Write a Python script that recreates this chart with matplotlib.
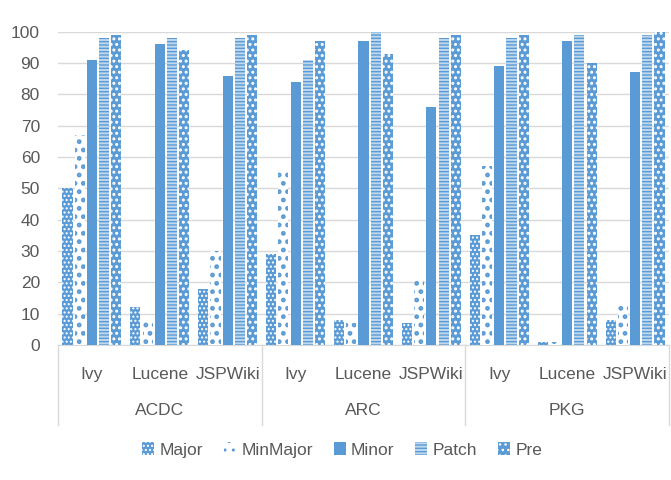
import matplotlib
matplotlib.use("Agg")
import matplotlib.pyplot as plt
import matplotlib.patches as mpatches
import numpy as np

groups = ['ACDC', 'ARC', 'PKG']
projects = ['Ivy', 'Lucene', 'JSPWiki']
series = ['Major', 'MinMajor', 'Minor', 'Patch', 'Pre']

major = [50, 12, 18, 29, 8, 7, 35, 1, 8]
minmajor = [67, 8, 30, 56, 7, 21, 57, 1, 13]
minor = [91, 96, 86, 84, 97, 76, 89, 97, 87]
patch = [98, 98, 98, 91, 100, 98, 98, 99, 99]
pre = [99, 94, 99, 97, 93, 99, 99, 90, 100]

blue = '#5B9BD5'
light = '#BDD7EE'
txt = '#595959'
grid = '#D9D9D9'

plt.rcParams['font.family'] = ['Liberation Sans', 'DejaVu Sans']

# face, hatch colour, hatch, hatch linewidth
styles = [
    (blue, 'white', '....', 1.0),
    ('white', blue, '..', 2.2),
    (blue, blue, None, 1.0),
    (light, blue, '-----', 1.0),
    (blue, 'white', '...', 1.4),
]

fig = plt.figure(figsize=(6.71, 4.80), dpi=100)
ax = fig.add_axes([58/671, 135/480, 611/671, 313.3/480])

x = np.arange(len(major))
w = 0.15
step = 0.18
for i, vals in enumerate([major, minmajor, minor, patch, pre]):
    fc, hc, h, hlw = styles[i]
    with plt.rc_context({'hatch.linewidth': hlw}):
        ax.bar(x + (i - 2) * step, vals, w, color=fc, edgecolor=hc,
               linewidth=0, hatch=h, zorder=3)

ax.set_xlim(-0.5, len(major) - 0.5)
ax.set_ylim(0, 100)
ax.set_yticks(range(0, 101, 10))
ax.yaxis.grid(True, color=grid, linewidth=1, zorder=0)
for s in ['top', 'right', 'left']:
    ax.spines[s].set_visible(False)
ax.spines['bottom'].set_color(grid)
ax.tick_params(axis='y', length=0, labelsize=12.5, labelcolor=txt, pad=13)
ax.set_xticks(x)
ax.set_xticklabels(projects * 3)
ax.tick_params(axis='x', length=0, labelsize=12.5, labelcolor=txt, pad=16)

# group labels and separators
for g, name in enumerate(groups):
    ax.text(3 * g + 1, -0.21, name, transform=ax.get_xaxis_transform(),
            ha='center', va='center', fontsize=12.5, color=txt)
for b in [-0.5, 2.5, 5.5, 8.5]:
    ax.plot([b, b], [0, -0.255], transform=ax.get_xaxis_transform(),
            color=grid, linewidth=1, clip_on=False)

handles = []
for (fc, hc, h, hlw), lab in zip(styles, series):
    with plt.rc_context({'hatch.linewidth': hlw}):
        handles.append(mpatches.Patch(facecolor=fc, edgecolor=hc, linewidth=0,
                                      hatch=h, label=lab))
fig.legend(handles=handles, loc='center', bbox_to_anchor=(0.51, 30/480), ncol=5,
           frameon=False, fontsize=12.5, handlelength=0.7, handleheight=0.7,
           handletextpad=0.3, columnspacing=1.2, labelcolor=txt)

fig.savefig('out.png', dpi=100)
